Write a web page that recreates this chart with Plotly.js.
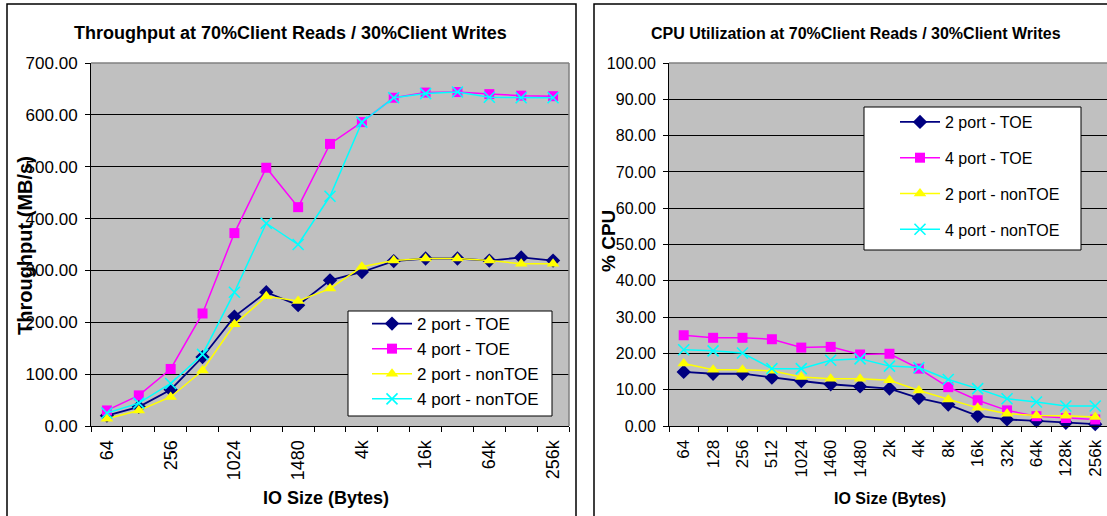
<!DOCTYPE html>
<html><head><meta charset="utf-8">
<script src="https://cdn.plot.ly/plotly-3.0.1.min.js"></script>
<style>html,body{margin:0;padding:0;background:#fff;}#chart{width:1107px;height:516px;}</style>
</head><body><div id="chart"></div>
<script>
// ---- data ----
const ioSizes = ['64','128','256','512','1024','1460','1480','2k','4k','8k','16k','32k','64k','128k','256k'];
const leftTickLabels = ['64','','256','','1024','','1480','','4k','','16k','','64k','','256k'];
const rightTickLabels = ['64','128','256','512','1024','1460','1480','2k','4k','8k','16k','32k','64k','128k','256k'];
const seriesNames = ['2 port - TOE','4 port - TOE','2 port - nonTOE','4 port - nonTOE'];
const thr2TOE = [20,37,70,133,211,258,233,281,297,318,323,323,319,325,319];
const thr4TOE = [30,59,110,217,372,498,422,544,586,633,643,644,640,637,636];
const thr2non = [14,30,56,107,196,250,241,265,307,319,323,323,319,313,313];
const thr4non = [25,44,82,138,258,391,350,443,586,633,641,644,634,633,633];
const cpu2TOE = [14.9,14.4,14.4,13.3,12.4,11.5,10.9,10.3,7.7,5.9,2.8,1.8,1.4,0.9,0.5];
const cpu4TOE = [25.0,24.3,24.3,23.9,21.6,21.8,19.7,19.9,15.8,10.7,7.1,4.3,2.7,2.2,1.8];
const cpu2non = [17.2,15.5,15.5,15.2,13.5,13.0,13.0,12.6,9.8,7.3,5.0,3.4,2.9,2.8,2.5];
const cpu4non = [21.0,20.7,20.1,15.8,15.8,18.1,18.5,16.5,16.1,12.8,10.3,7.5,6.6,5.5,5.5];

// ---- styles ----
const W = 1107, H = 516;
const px = v => v / W, py = v => 1 - v / H;
const FONT = 'Liberation Sans, Arial, sans-serif';
const colors = ['#000080','#ff00ff','#ffff00','#00ffff'];
const symbols = ['diamond','square','triangle-up','x-thin-open'];
const sizes = [11, 10, 11, 11];

function mk(y, i, xa, ya, leg, grp) {
  const m = {symbol: symbols[i], size: sizes[i], color: colors[i]};
  if (i === 3) m.line = {color: colors[i], width: 1.6};
  else m.line = {color: colors[i], width: 0};
  return {
    type: 'scatter', mode: 'lines+markers', x: ioSizes, y: y,
    name: seriesNames[i], xaxis: xa, yaxis: ya, legend: leg,
    legendgroup: grp + i,
    line: {color: colors[i], width: i === 0 ? 1.8 : 1.5},
    marker: m, cliponaxis: false
  };
}

const traces = [
  mk(thr2TOE,0,'x','y','legend','L'),
  mk(thr4TOE,1,'x','y','legend','L'),
  mk(thr2non,2,'x','y','legend','L'),
  mk(thr4non,3,'x','y','legend','L'),
  mk(cpu2TOE,0,'x2','y2','legend2','R'),
  mk(cpu4TOE,1,'x2','y2','legend2','R'),
  mk(cpu2non,2,'x2','y2','legend2','R'),
  mk(cpu4non,3,'x2','y2','legend2','R')
];

const yDom = [py(426), py(63)];
function xax(dom, anchor, range, labels, fs) {
  return {domain: dom, anchor: anchor, type: 'category', range: range,
    tickmode: 'array', tickvals: ioSizes, ticktext: labels, tickangle: -90,
    tickson: 'boundaries', ticks: 'outside', ticklen: 5, tickcolor: '#000', tickwidth: 1,
    showline: true, linecolor: '#000', linewidth: 1, showgrid: false, zeroline: false,
    tickfont: {family: FONT, size: fs, color: '#000'}, ticklabelstandoff: 6, fixedrange: true};
}
function yax(anchor, max, dt, fs) {
  return {domain: yDom, anchor: anchor, range: [0, max], tickmode: 'linear', tick0: 0, dtick: dt,
    tickformat: '.2f', ticks: 'outside', ticklen: 5, tickcolor: '#000', tickwidth: 1,
    showline: true, linecolor: '#000', linewidth: 1, showgrid: true, gridcolor: '#000', gridwidth: 1,
    zeroline: false, tickfont: {family: FONT, size: fs, color: '#000'}, ticklabelstandoff: 4, fixedrange: true};
}

function ann(text, x, y, size, angle) {
  return {text: text, x: px(x), y: py(y), xref: 'paper', yref: 'paper', xanchor: 'center', yanchor: 'middle',
    showarrow: false, textangle: angle || 0, font: {family: FONT, size: size, color: '#000', weight: 700}};
}

const layout = {
  width: W, height: H, margin: {l: 0, r: 0, t: 0, b: 0},
  paper_bgcolor: '#fff', plot_bgcolor: '#c0c0c0',
  font: {family: FONT, color: '#000'},
  xaxis: xax([px(91), px(569)], 'y', [-0.5, 14.5], leftTickLabels, 18),
  yaxis: yax('x', 700, 100, 17),
  xaxis2: xax([px(669), 1], 'y2', [-0.5, 14.4], rightTickLabels, 17),
  yaxis2: yax('x2', 100, 10, 16),
  legend: {x: px(367), y: py(306), xanchor: 'left', yanchor: 'top', bgcolor: 'rgba(0,0,0,0)', borderwidth: 0,
    font: {family: FONT, size: 17, color: '#000'}, itemwidth: 40, tracegroupgap: 0},
  legend2: {x: px(895), y: py(105), xanchor: 'left', yanchor: 'top', bgcolor: 'rgba(0,0,0,0)', borderwidth: 0,
    font: {family: FONT, size: 16, color: '#000'}, itemwidth: 40, tracegroupgap: 12},
  showlegend: true,
  annotations: [
    ann('Throughput at 70%Client Reads / 30%Client Writes', 290, 33, 18),
    ann('CPU Utilization at 70%Client Reads / 30%Client Writes', 856, 33, 16),
    ann('Throughput (MB/s)', 25, 246, 20, -90),
    ann('% CPU', 609, 241, 19, -90),
    ann('IO Size (Bytes)', 326, 498, 18),
    ann('IO Size (Bytes)', 890, 498, 16)
  ],
  shapes: [
    {type: 'rect', xref: 'paper', yref: 'paper', x0: px(7), x1: px(576), y0: -0.1, y1: py(4), line: {color: '#000', width: 1.5}, layer: 'below'},
    {type: 'rect', xref: 'paper', yref: 'paper', x0: px(594), x1: 1.05, y0: -0.1, y1: py(4), line: {color: '#000', width: 1.5}, layer: 'below'},
    {type: 'line', xref: 'x domain', yref: 'y domain', x0: 0, x1: 1, y0: 1, y1: 1, line: {color: '#808080', width: 1.5}},
    {type: 'line', xref: 'x domain', yref: 'y domain', x0: 1, x1: 1, y0: 0, y1: 1, line: {color: '#808080', width: 1.5}},
    {type: 'line', xref: 'x2 domain', yref: 'y2 domain', x0: 0, x1: 1, y0: 1, y1: 1, line: {color: '#808080', width: 1.5}},
    {type: 'rect', xref: 'paper', yref: 'paper', x0: px(348), x1: px(552), y0: py(416), y1: py(311), fillcolor: '#fff', line: {color: '#000', width: 1}, layer: 'above'},
    {type: 'rect', xref: 'paper', yref: 'paper', x0: px(864), x1: px(1081), y0: py(250), y1: py(107), fillcolor: '#fff', line: {color: '#000', width: 1}, layer: 'above'}
  ]
};

Plotly.newPlot('chart', traces, layout, {staticPlot: true, displayModeBar: false});
</script>
</body></html>
